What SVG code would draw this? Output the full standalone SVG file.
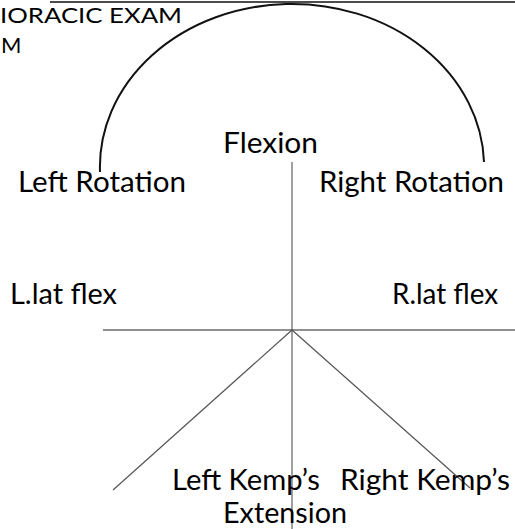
<svg xmlns="http://www.w3.org/2000/svg" width="515" height="529" viewBox="0 0 515 529">
<style>
.t{font-family:Lato,"Open Sans","Noto Sans",sans-serif;font-size:29px;fill:#000}
.h{font-family:Lato,"Open Sans","Noto Sans",sans-serif;font-size:22px;fill:#000}
.blk{stroke:#111;fill:none}
</style>
<rect width="515" height="529" fill="#fff"/>
<g id="title">
<text class="h" x="0" y="23" textLength="182" lengthAdjust="spacingAndGlyphs">IORACIC EXAM</text>
<text class="h" x="1" y="53">M</text>
</g>
<g id="connectors">
<line class="blk" x1="50" y1="2" x2="515" y2="2" stroke-width="1.5"/>
<path class="blk" d="M100,172 A192,163 0 0,1 484,162" stroke-width="2"/>
<line x1="292" y1="162" x2="292" y2="529" stroke="#888" stroke-width="1.6"/>
<line x1="103" y1="330" x2="515" y2="330" stroke="#222" stroke-width="1.2"/>
<line x1="292" y1="330" x2="113" y2="490" stroke="#555" stroke-width="1.2"/>
<line x1="292" y1="330" x2="470" y2="488" stroke="#555" stroke-width="1.2"/>
</g>
<g id="flexion"><text class="t" x="223" y="153" textLength="95" lengthAdjust="spacingAndGlyphs">Flexion</text></g>
<g id="left-rotation"><text class="t" x="18" y="192" textLength="168" lengthAdjust="spacingAndGlyphs">Left Rotation</text></g>
<g id="right-rotation"><text class="t" x="319" y="192" textLength="185" lengthAdjust="spacingAndGlyphs">Right Rotation</text></g>
<g id="l-lat-flex"><text class="t" x="10" y="304" textLength="107" lengthAdjust="spacingAndGlyphs">L.lat flex</text></g>
<g id="r-lat-flex"><text class="t" x="392" y="304" textLength="106" lengthAdjust="spacingAndGlyphs">R.lat flex</text></g>
<g id="left-kemps"><text class="t" x="172" y="490" textLength="148" lengthAdjust="spacingAndGlyphs">Left Kemp’s</text></g>
<g id="right-kemps"><text class="t" x="340" y="490" textLength="170" lengthAdjust="spacingAndGlyphs">Right Kemp’s</text></g>
<g id="extension"><text class="t" x="223" y="523" textLength="124" lengthAdjust="spacingAndGlyphs">Extension</text></g>
</svg>
